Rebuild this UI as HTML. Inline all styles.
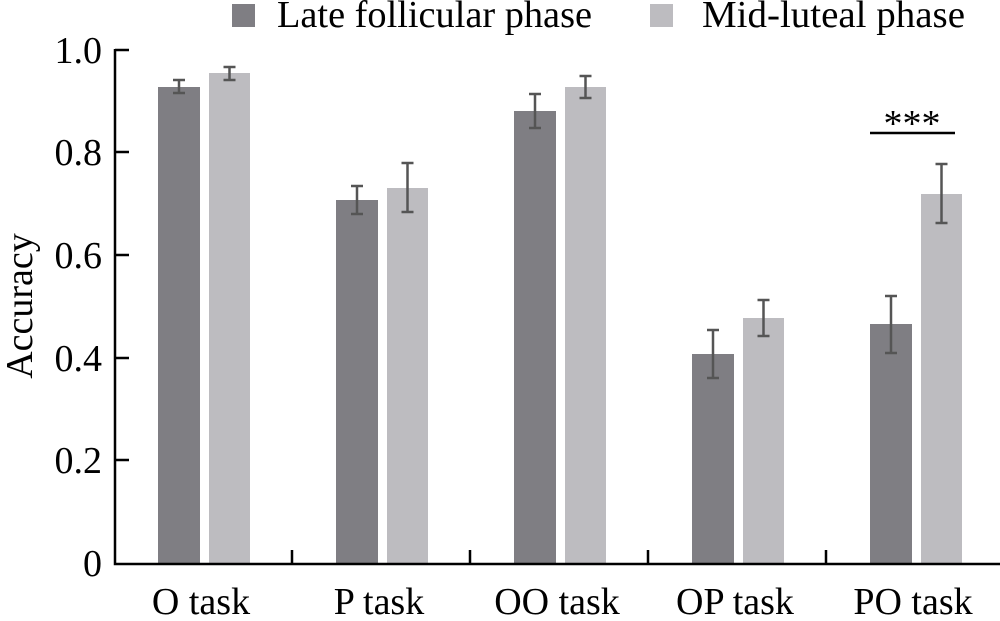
<!DOCTYPE html><html><head><style>body{margin:0;background:#fff}</style></head><body>
<svg width="1000" height="616" xmlns="http://www.w3.org/2000/svg" font-family="Liberation Serif, serif">
<g fill="#7f7e83"><rect x="158" y="87" width="42" height="476"/><rect x="336" y="200" width="42" height="363"/><rect x="514" y="111" width="42" height="452"/><rect x="692" y="354" width="42" height="209"/><rect x="870" y="324" width="42" height="239"/></g>
<g fill="#bdbcc0"><rect x="209" y="73" width="41" height="490"/><rect x="387" y="188" width="41" height="375"/><rect x="565" y="87" width="41" height="476"/><rect x="743" y="318" width="41" height="245"/><rect x="921" y="194" width="41" height="369"/></g>
<g stroke="#555" stroke-width="2.5" fill="none">
<path d="M179 80v13M173 80h12M173 93h12"/><path d="M229.5 67v13M223.5 67h12M223.5 80h12"/>
<path d="M357 186v28M351 186h12M351 214h12"/><path d="M407.5 163v49M401.5 163h12M401.5 212h12"/>
<path d="M535 94v34M529 94h12M529 128h12"/><path d="M585.5 76v22M579.5 76h12M579.5 98h12"/>
<path d="M713 330v48M707 330h12M707 378h12"/><path d="M763.5 300v36M757.5 300h12M757.5 336h12"/>
<path d="M891 296v57M885 296h12M885 353h12"/><path d="M941.5 164v59M935.5 164h12M935.5 223h12"/>
</g>
<g stroke="#000" stroke-width="2.5" fill="none">
<path d="M115 49v515h885"/>
<path d="M115 50h14M115 152h14M115 255h14M115 358h14M115 460h14"/>
<path d="M292 563v-13M470 563v-13M648 563v-13M826 563v-13"/>
<path d="M870 133h85"/>
</g>
<text x="912" y="136" font-size="38" text-anchor="middle">***</text>
<g font-size="38" text-anchor="end"><text x="102" y="63">1.0</text><text x="102" y="165">0.8</text><text x="102" y="268">0.6</text><text x="102" y="371">0.4</text><text x="102" y="473">0.2</text><text x="102" y="576">0</text></g>
<g font-size="38" text-anchor="middle"><text x="201" y="614">O task</text><text x="379" y="614">P task</text><text x="557" y="614">OO task</text><text x="735" y="614">OP task</text><text x="913" y="614">PO task</text></g>
<text transform="translate(32 306) rotate(-90)" font-size="38" text-anchor="middle">Accuracy</text>
<rect x="232" y="4" width="23" height="23" fill="#7f7e83"/><text x="277" y="27" font-size="38" textLength="315" lengthAdjust="spacingAndGlyphs">Late follicular phase</text>
<rect x="650" y="4" width="23" height="23" fill="#bdbcc0"/><text x="702" y="27" font-size="38" textLength="263" lengthAdjust="spacingAndGlyphs">Mid-luteal phase</text>
</svg></body></html>
